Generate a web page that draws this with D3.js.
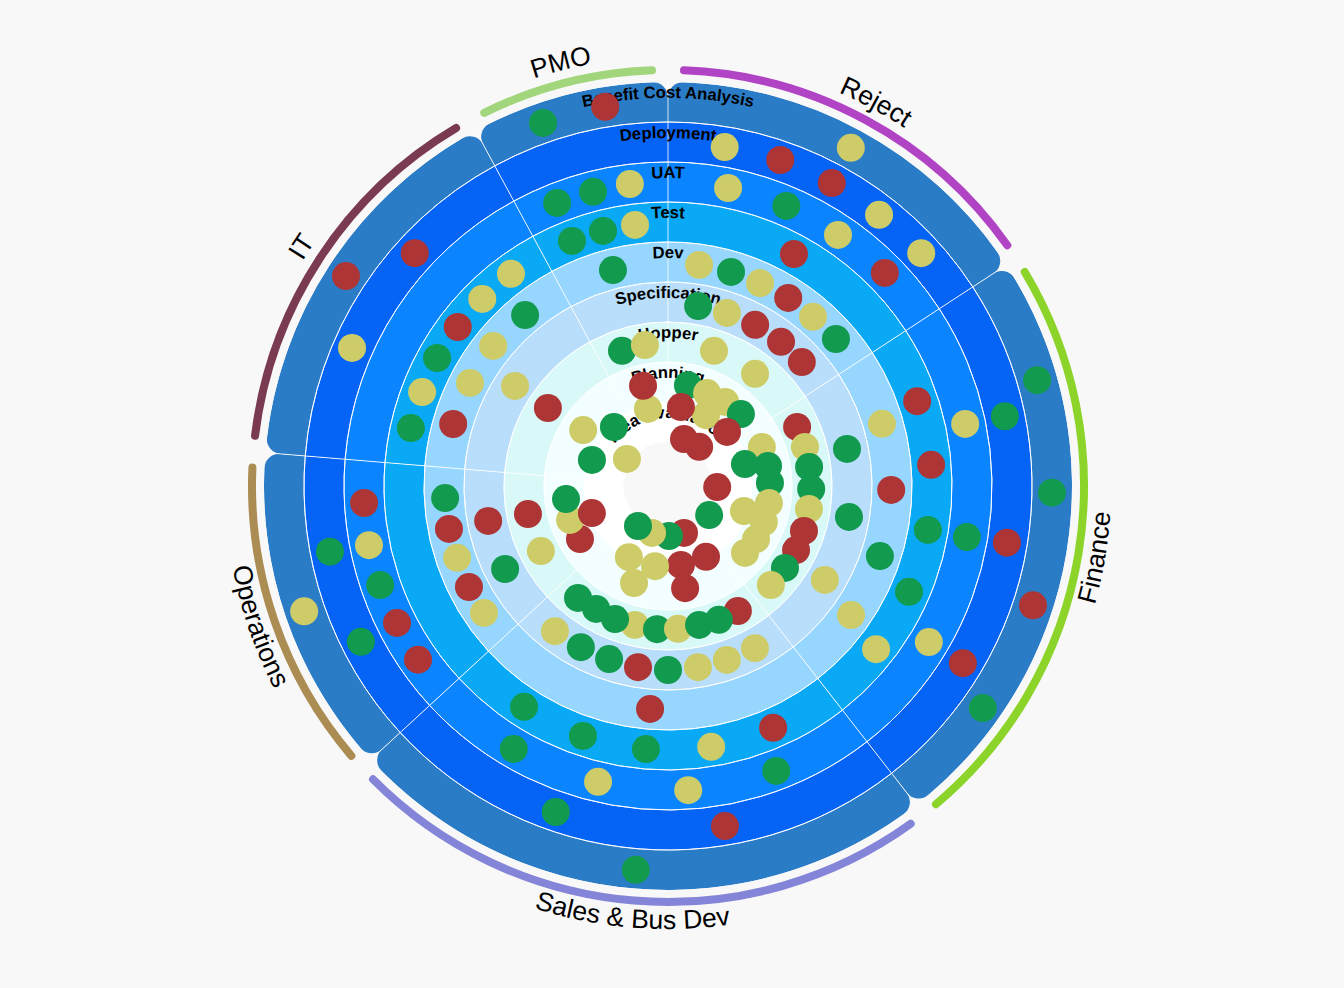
<!DOCTYPE html>
<html><head><meta charset="utf-8"><style>html,body{margin:0;background:#f8f8f8}svg{display:block}</style>
<script src="https://cdn.jsdelivr.net/npm/d3@7"></script></head><body><svg id="c" width="1344" height="988"></svg>
<script>
const sectors=["PMO","Reject","Finance","Sales & Bus Dev","Operations","IT"];
const sectorWeights=[3,6,9,9,5,6];
const sectorColors=["#a2d67c","#b044c4","#8cd42a","#8484d8","#ab8c52","#7a3a52"];
const phases=["Idea Evaluation","Planning","Hopper","Specification","Dev","Test","UAT","Deployment","Benefit Cost Analysis"];
const phaseColors=["#ffffff","#f2feff","#d9f9f9","#b8defb","#97d7ff","#0aa9f5","#0a84ff","#0563f5","#2b7cc7"];
const statusColors={g:"#129a4e",r:"#ae3535",y:"#cdcc68"};
const dotAngles=[341.0,350.6,9.5,19.0,28.4,28.4,37.9,47.4,45.5,22.9,11.4,34.1,28.5,8.0,16.4,24.4,32.6,40.6,48.8,47.2,38.1,28.4,18.8,9.5,18.8,37.8,11.2,34.2,22.8,28.2,9.3,45.4,47.5,18.8,
38.5,65.4,74.1,67.5,78.7,74.1,82.3,91.2,88.3,99.3,99.6,110.6,108.2,91.2,125.3,116.6,108.3,121.1,131.0,125.0,133.9,120.9,78.3,73.8,71.2,78.2,78.3,74.0,85.4,91.0,91.0,99.7,99.6,99.7,
99.5,108.1,108.3,113.7,125.2,120.9,128.1,121.0,125.2,150.8,193.4,184.4,176.0,167.4,159.2,218.8,210.3,201.7,151.8,161.3,170.6,180.0,189.4,198.8,208.4,217.9,161.2,178.9,198.8,216.9,151.8,170.7,170.5,189.2,
208.8,199.3,184.6,156.5,170.6,184.8,198.8,213.1,210.4,193.3,176.2,159.2,170.5,199.0,184.8,243.0,235.4,243.1,251.2,258.9,266.9,259.0,258.7,242.9,238.9,250.9,262.7,250.4,266.8,258.8,259.0,251.0,243.2,251.0,
243.1,235.2,312.6,303.1,293.6,323.5,315.2,307.1,320.1,299.0,308.7,297.5,290.9,303.2,282.7,286.1,303.0,352.8,345.7,338.6,352.8,345.7,338.6,345.7,341.2,350.7,345.4,346.0,303.4,317.5,288.9,303.4];
const dotRings=[8.50,8.51,7.49,7.52,8.51,7.51,7.49,7.50,6.50,6.50,6.50,6.48,5.50,4.48,4.48,4.47,4.48,4.47,4.48,3.46,3.48,3.48,3.47,3.46,2.47,2.45,1.47,1.44,1.42,0.91,0.90,1.46,0.90,0.14,
0.15,2.45,2.46,1.44,1.45,0.90,2.46,2.48,1.45,2.47,1.46,1.46,0.90,0.13,0.16,2.48,2.48,1.47,1.45,2.47,2.47,3.47,3.47,4.47,5.48,6.49,7.50,8.50,5.50,4.48,8.50,3.49,5.49,6.48,
7.49,8.50,4.48,5.48,4.50,6.50,5.51,7.50,8.53,2.48,2.47,2.49,2.48,2.46,2.48,2.49,2.46,2.48,3.50,3.49,3.49,3.50,3.49,3.47,3.48,3.50,0.14,0.15,0.14,0.15,0.91,0.90,1.49,0.93,
0.93,1.47,4.49,5.49,5.51,5.50,5.50,5.49,6.52,6.50,6.52,6.52,7.52,7.52,8.53,3.47,4.49,4.48,4.47,4.48,4.48,3.48,2.47,2.47,1.47,1.49,1.47,0.92,6.51,6.52,7.51,6.51,6.49,8.52,
7.51,6.51,7.50,8.51,7.52,5.50,5.49,5.49,4.47,5.50,4.50,4.48,5.48,3.47,5.49,4.49,2.48,6.51,6.49,6.50,5.48,5.48,5.48,4.47,2.47,2.47,0.89,1.48,1.44,0.90,0.91,0.13];
const dotStatus=(
"g r y r y r y y r g y y r y g y r y g r r r y g y y g y y y r g r r "+
"r r y y g g g g g y y y y r g r r y y g y y g y r y g g r r g g g g "+
"r r g g y y y r g r y g y g g g g g y y y g r g g y r g y g r r r y "+
"y y r r y g g g g y y g r g g g y r y r g r r y r y g r r y g g r y "+
"g r r r y y y r g g y y y y g r r y g g y g g g g y y r y g g y").trim().split(" ");

const cx=668,cy=486,hole=44,bandWidth=40,outer=hole+bandWidth*phases.length;
const TAU=2*Math.PI, deg=Math.PI/180;
const radius=d3.scaleLinear().domain([0,phases.length]).range([hole,outer]);
const angle=d3.scaleLinear().domain([0,360]).range([0,TAU]);
const svg=d3.select("#c");
const g=svg.append("g").attr("transform",`translate(${cx},${cy})`);
const start=-sectorWeights[0]/d3.sum(sectorWeights)*TAU;
const pie=d3.pie().sort(null).value(d=>d).startAngle(start).endAngle(start+TAU);
const arcs=pie(sectorWeights);
const bodyArc=d3.arc().innerRadius(hole+16).outerRadius(outer).cornerRadius(15);
const hubArc=d3.arc().innerRadius(hole).outerRadius(hole+46).cornerRadius(5);

const defs=svg.append("defs");
arcs.forEach((a,i)=>{
  const c=defs.append("clipPath").attr("id","sec"+i);
  c.append("path").attr("d",bodyArc(a));
  c.append("path").attr("d",hubArc(a));
});

// ring fills per sector, clipped to the rounded sector outline
const bandArc=d3.arc();
arcs.forEach((a,i)=>{
  const sg=g.append("g").attr("clip-path",`url(#sec${i})`);
  sg.selectAll("path").data(phases).join("path")
    .attr("d",(p,k)=>bandArc({innerRadius:radius(k),outerRadius:radius(k+1),startAngle:a.startAngle,endAngle:a.endAngle}))
    .attr("fill",(p,k)=>phaseColors[k]);
  sg.selectAll("path.line").data(phases.slice(0,-1)).join("path").attr("class","line")
    .attr("d",(p,k)=>bandArc({innerRadius:radius(k+1),outerRadius:radius(k+1),startAngle:a.startAngle,endAngle:a.endAngle}))
    .attr("fill","none").attr("stroke","#fff").attr("stroke-opacity",.85).attr("stroke-width",1);
});
// sector dividers
g.selectAll("line.div").data(arcs).join("line").attr("class","div")
  .attr("x1",a=>d3.pointRadial(a.startAngle,radius(0))[0]).attr("y1",a=>d3.pointRadial(a.startAngle,radius(0))[1])
  .attr("x2",a=>d3.pointRadial(a.startAngle,radius(phases.length))[0]).attr("y2",a=>d3.pointRadial(a.startAngle,radius(phases.length))[1])
  .attr("stroke","#fff").attr("stroke-opacity",.8).attr("stroke-width",1);

// outer status arcs
const pad=2.2*deg;
g.selectAll("path.rim").data(arcs).join("path").attr("class","rim")
  .attr("d",a=>{const p=d3.path();p.arc(0,0,outer+12,a.startAngle+pad-Math.PI/2,a.endAngle-pad-Math.PI/2);return p.toString();})
  .attr("fill","none").attr("stroke",(a,i)=>sectorColors[i]).attr("stroke-width",8).attr("stroke-linecap","round");

// phase labels on curved paths centred at twelve o'clock
phases.forEach((name,k)=>{
  const p=d3.path();p.arc(0,0,radius(k)+24,-Math.PI,0);
  defs.append("path").attr("id","ph"+k).attr("d",p.toString()).attr("transform",`translate(${cx},${cy})`);
});
g.selectAll("text.ph").data(phases).join("text").attr("class","ph")
  .attr("transform",`translate(${-cx},${-cy})`)
  .attr("font-family","'Liberation Sans',Arial,sans-serif").attr("font-weight","bold").attr("font-size",16.7).attr("fill","#000")
  .append("textPath").attr("href",(d,k)=>"#ph"+k).attr("startOffset","50%").attr("text-anchor","middle").text(d=>d);

// sector labels
arcs.forEach((a,i)=>{
  const mid=(a.startAngle+a.endAngle)/2, m=mid<0?mid+TAU:mid;
  const flip=m>Math.PI/2&&m<Math.PI*1.5;
  const p=d3.path(),span=1.2;
  const r=flip?outer+39:outer+25;
  if(flip)p.arc(0,0,r,mid+span-Math.PI/2,mid-span-Math.PI/2,true);
  else p.arc(0,0,r,mid-span-Math.PI/2,mid+span-Math.PI/2);
  defs.append("path").attr("id","sl"+i).attr("d",p.toString()).attr("transform",`translate(${cx},${cy})`);
});
g.selectAll("text.sl").data(sectors).join("text").attr("class","sl")
  .attr("transform",`translate(${-cx},${-cy})`)
  .attr("font-family","'Liberation Sans',Arial,sans-serif").attr("font-size",26.5).attr("fill","#000")
  .append("textPath").attr("href",(d,i)=>"#sl"+i).attr("startOffset","50%").attr("text-anchor","middle").text(d=>d);

// items
g.selectAll("circle").data(dotAngles).join("circle")
  .attr("cx",(d,i)=>d3.pointRadial(angle(d),radius(dotRings[i]))[0])
  .attr("cy",(d,i)=>d3.pointRadial(angle(d),radius(dotRings[i]))[1])
  .attr("r",14).attr("fill",(d,i)=>statusColors[dotStatus[i]]);
</script>
</body></html>
